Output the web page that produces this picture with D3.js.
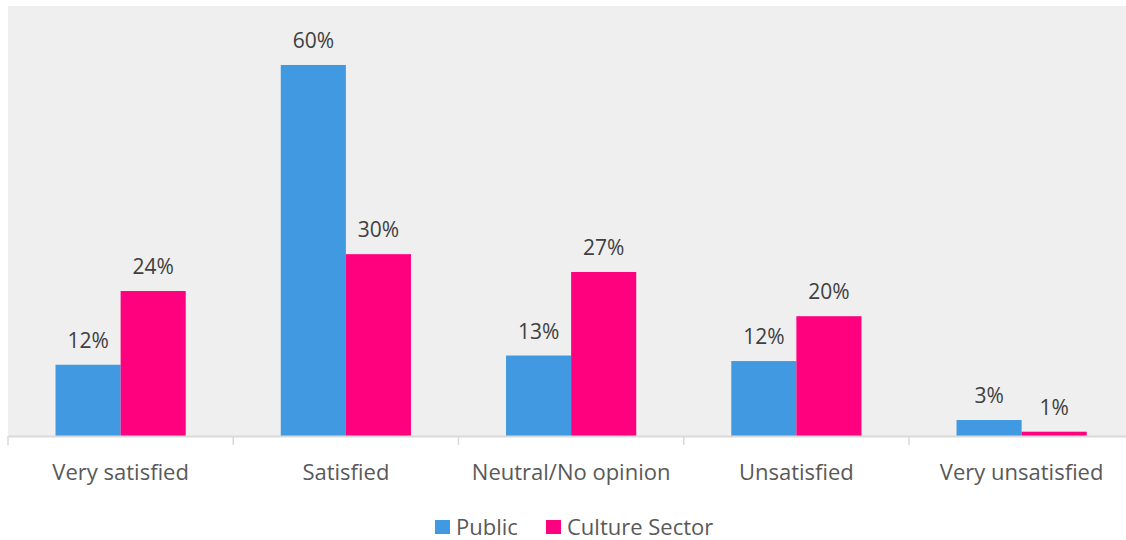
<!DOCTYPE html>
<html><head><meta charset="utf-8">
<script src="https://cdn.jsdelivr.net/npm/d3@7"></script>
<style>body{margin:0;background:#fff}svg{display:block}text{font-family:"Open Sans","Noto Sans",sans-serif}</style>
</head><body>
<svg id="c" width="1126" height="540"></svg>
<script>
const categories = ["Very satisfied","Satisfied","Neutral/No opinion","Unsatisfied","Very unsatisfied"];
const seriesNames = ["Public","Culture Sector"];
const publicValues = [11.6, 60.4, 13.1, 12.2, 2.6];
const cultureValues = [23.6, 29.6, 26.7, 19.5, 0.7];
const colors = ["#4199e1","#ff007f"];

const svg = d3.select("#c");
const plotLeft = 8, plotTop = 6, plotBottom = 436, step = 225.25;
const plotRight = plotLeft + step * categories.length;

const x = d3.scaleBand().domain(categories).range([plotLeft, plotRight]).paddingInner(0.422).paddingOuter(0.211);
const xs = d3.scaleBand().domain(seriesNames).range([0, x.bandwidth()]);
const y = d3.scaleLinear().domain([0, 70]).range([plotBottom, plotTop]);

svg.append("rect").attr("x", plotLeft).attr("y", plotTop).attr("width", plotRight-plotLeft).attr("height", plotBottom-plotTop).attr("fill", "#efefef");

const data = categories.map((c,i)=>({c, vals:[publicValues[i], cultureValues[i]]}));
const g = svg.selectAll("g.cat").data(data).join("g").attr("class","cat").attr("transform", d=>`translate(${x(d.c)},0)`);
g.selectAll("rect").data(d=>d.vals.map((v,j)=>({v, s:seriesNames[j], j}))).join("rect")
  .attr("x", d=>xs(d.s)).attr("width", xs.bandwidth())
  .attr("y", d=>y(d.v)).attr("height", d=>plotBottom - y(d.v)).attr("fill", d=>colors[d.j]);
g.selectAll("text").data(d=>d.vals.map((v,j)=>({v, s:seriesNames[j], j}))).join("text")
  .attr("x", d=>xs(d.s)+xs.bandwidth()/2).attr("y", d=>y(d.v)-17)
  .attr("text-anchor","middle").attr("font-size", 21).attr("fill","#404040")
  .text(d=>d3.format(".0f")(d.v)+"%");

// axis
const ax = svg.append("g").attr("transform", `translate(0,${plotBottom})`)
  .call(d3.axisBottom(x).tickSize(0).tickPadding(28.5));
ax.select(".domain").attr("stroke","#d9d9d9").attr("stroke-width",2);
ax.selectAll("text").attr("font-size",22).attr("fill","#595959").attr("font-family","'Open Sans', sans-serif");
const bounds = d3.range(categories.length+1).map(i=>plotLeft + i*step);
svg.selectAll("line.tk").data(bounds).join("line").attr("class","tk")
  .attr("x1", d=>d).attr("x2", d=>d).attr("y1", plotBottom).attr("y2", plotBottom+9)
  .attr("stroke","#d9d9d9").attr("stroke-width",1.5);

// legend
const legX = [435, 546];
const lg = svg.selectAll("g.leg").data(seriesNames).join("g").attr("class","leg").attr("transform",(d,i)=>`translate(${legX[i]},520)`);
lg.append("rect").attr("width",15).attr("height",14).attr("fill",(d,i)=>colors[i]);
lg.append("text").attr("x",21).attr("y",15).attr("font-size",22).attr("fill","#595959").text(d=>d);
</script>
</body></html>
